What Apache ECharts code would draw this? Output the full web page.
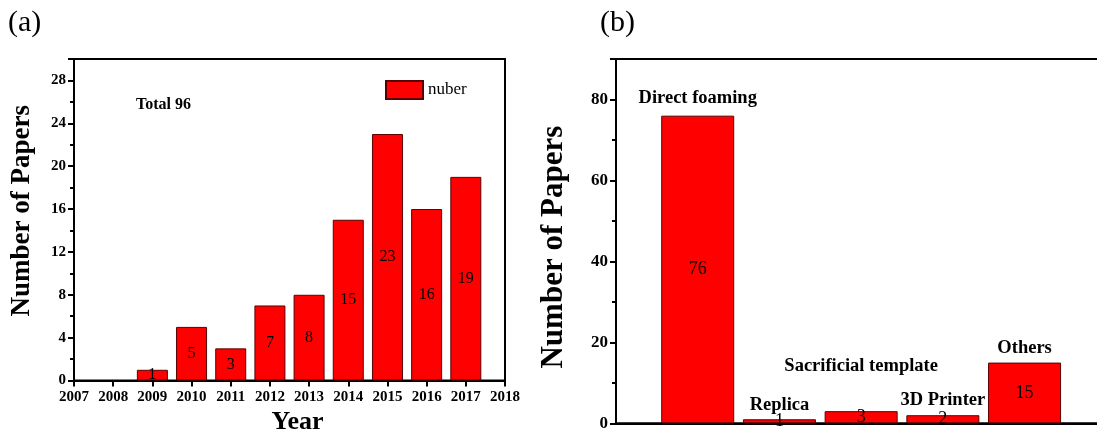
<!DOCTYPE html>
<html>
<head>
<meta charset="utf-8">
<script src="https://cdn.jsdelivr.net/npm/echarts@6/dist/echarts.min.js"></script>
<style>
html,body{margin:0;padding:0;background:#fff;}
#chart{width:1097px;height:434px;}
</style>
</head>
<body>
<div id="chart"></div>
<script>
// Panel (a) data
var years = [2009, 2010, 2011, 2012, 2013, 2014, 2015, 2016, 2017];
var paperCounts = [1, 5, 3, 7, 8, 15, 23, 16, 19];
var seriesNameA = 'nuber';
var totalText = 'Total 96';
// Panel (b) data
var methods = ['Direct foaming', 'Replica', 'Sacrificial template', '3D Printer', 'Others'];
var methodCounts = [76, 1, 3, 2, 15];

var FONT = '"Liberation Serif", "Times New Roman", serif';
var RED = '#ff0000';
var EDGE = '#5a0000';

var chart = echarts.init(document.getElementById('chart'), null, {renderer: 'canvas'});

var dataA = years.map(function (y, i) { return [y, paperCounts[i]]; });
var dataB = methodCounts.map(function (v, i) { return [i + 1, v]; });
var nameLabelData = methodCounts.map(function (v, i) {
  var item = {value: [i + 1, v], name: methods[i]};
  if (methods[i] === 'Sacrificial template') item.label = {distance: 35};
  if (methods[i] === 'Direct foaming') item.label = {distance: 8};
  return item;
});

var option = {
  animation: false,
  backgroundColor: '#fff',
  textStyle: {fontFamily: FONT},
  graphic: [
    {type: 'text', left: 8, top: 8, style: {text: '(a)', font: '30px ' + FONT, fill: '#000'}},
    {type: 'text', left: 600, top: 8, style: {text: '(b)', font: '30px ' + FONT, fill: '#000'}},
    {type: 'text', left: 136, top: 97, style: {text: totalText, font: 'bold 16px ' + FONT, fill: '#000'}}
  ],
  legend: {
    data: [seriesNameA],
    left: 385, top: 80, padding: 0,
    itemWidth: 37, itemHeight: 18, itemGap: 5,
    textStyle: {fontFamily: FONT, fontSize: 17, color: '#000'},
    icon: 'rect'
  },
  grid: [
    {left: 74, top: 59, width: 431, height: 321.5, show: true, borderColor: '#000', borderWidth: 2,
      backgroundColor: 'transparent', outerBoundsMode: 'none', containLabel: false},
    {left: 616, top: 59, width: 572, height: 364.3, show: true, borderColor: '#000', borderWidth: 2,
      backgroundColor: 'transparent', outerBoundsMode: 'none', containLabel: false}
  ],
  xAxis: [
    {
      gridIndex: 0, type: 'value', min: 2007, max: 2018, interval: 1,
      name: 'Year', nameLocation: 'middle', nameGap: 29,
      nameTextStyle: {fontFamily: FONT, fontSize: 26, fontWeight: 'bold', color: '#000', padding: [0, 0, 0, 16]},
      axisLine: {lineStyle: {color: '#000', width: 2}},
      axisTick: {show: true, inside: false, length: 6, lineStyle: {color: '#000', width: 2}},
      axisLabel: {fontFamily: FONT, fontSize: 15, fontWeight: 'bold', color: '#000', margin: 9,
        formatter: function (v) { return String(v); }},
      splitLine: {show: false}
    },
    {
      gridIndex: 1, type: 'value', min: 0, max: 7,
      axisLine: {lineStyle: {color: '#000', width: 2}},
      axisTick: {show: false}, axisLabel: {show: false}, splitLine: {show: false}
    }
  ],
  yAxis: [
    {
      gridIndex: 0, type: 'value', min: 0, max: 30, interval: 4,
      name: 'Number of Papers', nameLocation: 'middle', nameGap: 38,
      nameTextStyle: {fontFamily: FONT, fontSize: 27, fontWeight: 'bold', color: '#000', padding: [0, 0, 0, 18]},
      axisLine: {show: true, lineStyle: {color: '#000', width: 2}},
      axisTick: {show: true, length: 6, lineStyle: {color: '#000', width: 2}},
      minorTick: {show: true, splitNumber: 2, length: 4, lineStyle: {color: '#000', width: 2}},
      axisLabel: {fontFamily: FONT, fontSize: 15, fontWeight: 'bold', color: '#000', margin: 8, showMaxLabel: false},
      splitLine: {show: false}
    },
    {
      gridIndex: 1, type: 'value', min: 0, max: 90, interval: 20,
      name: 'Number of Papers', nameLocation: 'middle', nameGap: 47,
      nameTextStyle: {fontFamily: FONT, fontSize: 31, fontWeight: 'bold', color: '#000', padding: [0, 12, 0, 0]},
      axisLine: {show: true, lineStyle: {color: '#000', width: 2}},
      axisTick: {show: true, length: 6, lineStyle: {color: '#000', width: 2}},
      minorTick: {show: true, splitNumber: 2, length: 4, lineStyle: {color: '#000', width: 2}},
      axisLabel: {fontFamily: FONT, fontSize: 17, fontWeight: 'bold', color: '#000', margin: 8, showMaxLabel: false},
      splitLine: {show: false}
    }
  ],
  series: [
    {
      name: seriesNameA, type: 'bar', xAxisIndex: 0, yAxisIndex: 0,
      data: dataA, barWidth: 31,
      itemStyle: {color: RED, borderColor: EDGE, borderWidth: 1},
      label: {show: true, position: 'inside', fontFamily: FONT, fontSize: 16, color: '#000',
        formatter: function (p) { return p.value[1]; }}
    },
    {
      name: 'methods', type: 'bar', xAxisIndex: 1, yAxisIndex: 1,
      data: dataB, barWidth: 73, barGap: '-100%',
      itemStyle: {color: RED, borderColor: EDGE, borderWidth: 1},
      label: {show: true, position: 'inside', fontFamily: FONT, fontSize: 18, color: '#000',
        formatter: function (p) { return p.value[1]; }}
    },
    {
      name: 'methodNames', type: 'bar', xAxisIndex: 1, yAxisIndex: 1,
      data: nameLabelData, barWidth: 73, barGap: '-100%', silent: true,
      itemStyle: {color: 'rgba(0,0,0,0)', borderWidth: 0},
      label: {show: true, position: 'top', distance: 5, fontFamily: FONT, fontSize: 18.5, fontWeight: 'bold', color: '#000',
        formatter: function (p) { return p.name; }},
      z: 5
    }
  ]
};
chart.setOption(option);
</script>
</body>
</html>
